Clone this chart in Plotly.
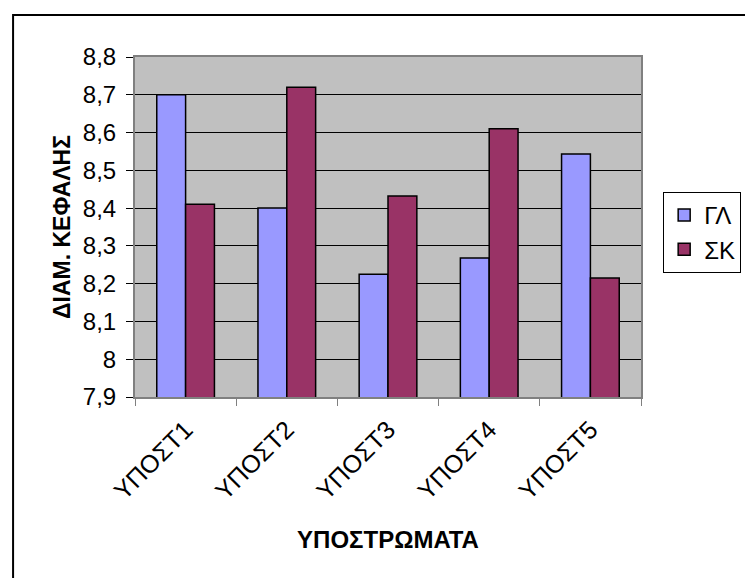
import plotly.graph_objects as go

categories = ["ΥΠΟΣΤ1", "ΥΠΟΣΤ2", "ΥΠΟΣΤ3", "ΥΠΟΣΤ4", "ΥΠΟΣΤ5"]
gl_values = [8.70, 8.40, 8.225, 8.268, 8.543]
sk_values = [8.41, 8.72, 8.432, 8.61, 8.215]
series_names = ["ΓΛ", "ΣΚ"]
y_ticks = [7.9, 8.0, 8.1, 8.2, 8.3, 8.4, 8.5, 8.6, 8.7, 8.8]

FONT = "Liberation Sans, Arial, sans-serif"

fig = go.Figure()
fig.add_trace(go.Bar(x=categories, y=gl_values, name=series_names[0], legendgroup="a",
                     marker=dict(color="#9999FF", line=dict(color="black", width=1.5))))
fig.add_trace(go.Bar(x=categories, y=sk_values, name=series_names[1], legendgroup="b",
                     marker=dict(color="#993366", line=dict(color="black", width=1.5))))

# page body has an 8px margin; figure coordinates = screen - 8
OFF = 8
W, H = 753 - OFF, 578 - OFF
L, T = 135 - OFF, 57 - OFF
R = W - (660 - OFF)
B = H - (397 - OFF)
pw, ph = W - L - R, H - T - B

def px_x(x):
    return (x - OFF - L) / pw

def px_y(y):
    return 1 - (y - OFF - T) / ph

fig.update_layout(
    width=W, height=H,
    margin=dict(l=L, r=R, t=T, b=B),
    paper_bgcolor="white",
    plot_bgcolor="#C0C0C0",
    separators=",.",
    barmode="group",
    bargap=0.43,
    bargroupgap=0,
    font=dict(family=FONT, size=24, color="black"),
    showlegend=True,
    legend=dict(x=px_x(683), y=px_y(192), xanchor="left", yanchor="top",
                bordercolor="black", borderwidth=1, bgcolor="white",
                font=dict(size=24), tracegroupgap=0, traceorder="grouped",
                itemwidth=30),
    xaxis=dict(
        showline=True, linecolor="#808080", linewidth=2, mirror=True,
        ticks="outside", ticklen=7, tickcolor="#808080", tickwidth=1,
        tickson="boundaries", tickangle=-45,
        tickfont=dict(size=25), ticklabelstandoff=6,
        title=dict(text="<b>ΥΠΟΣΤΡΩΜΑΤΑ</b>", font=dict(size=24), standoff=27),
    ),
    yaxis=dict(
        range=[7.9, 8.8], tickvals=y_ticks,
        showline=True, linecolor="#808080", linewidth=2, mirror=True,
        ticks="outside", ticklen=7, tickcolor="black", tickwidth=1,
        showgrid=True, gridcolor="black", gridwidth=1,
        zeroline=False,
        tickfont=dict(size=24), ticklabelstandoff=5,
        title=dict(text="<b>ΔΙΑΜ. ΚΕΦΑΛΗΣ</b>", font=dict(size=23), standoff=6),
    ),
    shapes=[dict(type="rect", xref="paper", yref="paper",
                 x0=px_x(8.5), x1=px_x(790), y0=px_y(620), y1=px_y(15),
                 line=dict(color="black", width=2), fillcolor="rgba(0,0,0,0)",
                 layer="below")],
)

fig.write_html("out.html")
